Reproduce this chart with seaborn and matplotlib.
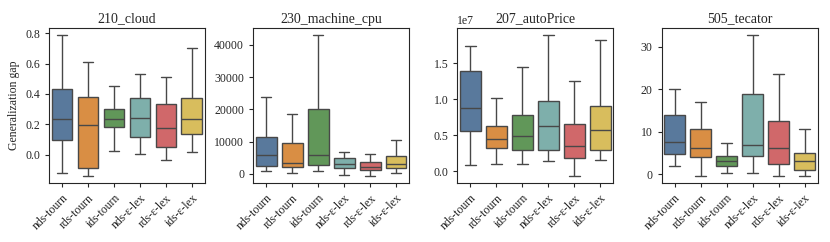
import matplotlib
matplotlib.use('Agg')
import matplotlib.pyplot as plt
import seaborn as sns
import pandas as pd

methods = ['nds-tourn', 'rds-tourn', 'ids-tourn', 'nds-ε-lex', 'rds-ε-lex', 'ids-ε-lex']
colors = ['#4e79a7', '#f28e2b', '#59a14f', '#76b7b2', '#e15759', '#edc948']

# five-number summaries (min, q1, median, q3, max)
cloud = [
    [-0.122, 0.098, 0.232, 0.433, 0.787],
    [-0.140, -0.085, 0.197, 0.378, 0.610],
    [0.022, 0.181, 0.232, 0.302, 0.450],
    [0.007, 0.118, 0.243, 0.372, 0.529],
    [-0.033, 0.050, 0.177, 0.332, 0.514],
    [0.017, 0.136, 0.236, 0.374, 0.700],
]
machine_cpu = [
    [925, 2570, 5960, 11410, 23960],
    [310, 2160, 3290, 9460, 18510],
    [820, 2670, 5960, 20150, 42980],
    [-410, 1850, 3080, 4830, 6790],
    [-620, 1230, 2260, 3700, 6170],
    [200, 1750, 2980, 5660, 10590],
]
auto_price = [
    [0.083e7, 0.557e7, 0.883e7, 1.385e7, 1.739e7],
    [0.097e7, 0.322e7, 0.451e7, 0.626e7, 1.012e7],
    [0.097e7, 0.299e7, 0.492e7, 0.782e7, 1.449e7],
    [0.143e7, 0.294e7, 0.630e7, 0.971e7, 1.887e7],
    [-0.064e7, 0.189e7, 0.345e7, 0.658e7, 1.256e7],
    [0.152e7, 0.299e7, 0.566e7, 0.911e7, 1.813e7],
]
tecator = [
    [1.96, 4.78, 7.60, 14.02, 20.05],
    [-0.39, 4.15, 6.19, 10.73, 17.0],
    [0.23, 1.96, 3.13, 4.31, 7.36],
    [0.31, 4.23, 6.89, 18.88, 32.74],
    [-0.31, 2.51, 6.19, 12.53, 23.58],
    [-0.31, 1.10, 3.21, 5.01, 10.65],
]

datasets = ['210_cloud', '230_machine_cpu', '207_autoPrice', '505_tecator']
summaries = [cloud, machine_cpu, auto_price, tecator]

sns.set_style('ticks')
plt.rcParams['font.family'] = ['Liberation Serif', 'DejaVu Serif']

fig, axes = plt.subplots(1, 4, figsize=(8.3, 2.42), dpi=100)
fig.subplots_adjust(left=0.059, right=0.985, top=0.884, bottom=0.244, wspace=0.31)

for ax, name, summ in zip(axes, datasets, summaries):
    rows = []
    for m, vals in zip(methods, summ):
        for v in vals:
            rows.append({'method': m, 'gap': v})
    df = pd.DataFrame(rows)
    sns.boxplot(data=df, x='method', y='gap', hue='method', palette=colors,
                whis=(0, 100), ax=ax, legend=False)
    ax.set_title(name, fontsize=10, pad=4)
    ax.set_xlabel('')
    ax.set_ylabel('')
    ax.tick_params(labelsize=8.5, length=3)
    plt.setp(ax.get_xticklabels(), rotation=45, ha='right', rotation_mode='anchor')
    ax.yaxis.get_offset_text().set_fontsize(8.5)

axes[0].set_ylabel('Generalization gap', fontsize=8.5)

plt.savefig('out.png', dpi=100)
